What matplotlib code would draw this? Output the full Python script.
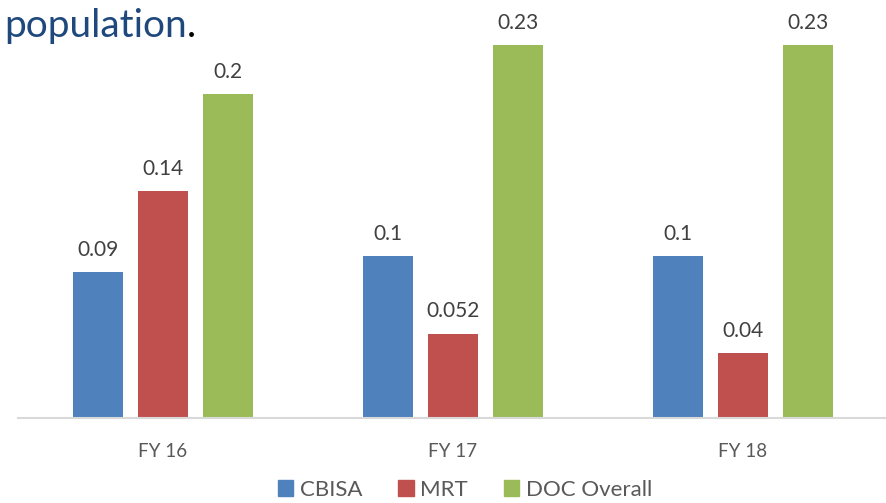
import numpy as np
import matplotlib
matplotlib.use("Agg")
import matplotlib.pyplot as plt
from matplotlib.patches import Patch

plt.rcParams['font.family'] = ['Lato', 'DejaVu Sans']

years = ["FY 16", "FY 17", "FY 18"]
series = ["CBISA", "MRT", "DOC Overall"]
cbisa = [0.09, 0.1, 0.1]
mrt = [0.14, 0.052, 0.04]
doc = [0.2, 0.23, 0.23]
labels = [["0.09", "0.1", "0.1"], ["0.14", "0.052", "0.04"], ["0.2", "0.23", "0.23"]]
colors = ["#4F81BD", "#C0504D", "#9BBB59"]

fig = plt.figure(figsize=(8.86, 5.03), dpi=100)
ax = fig.add_axes([18 / 886, 85 / 503, 868 / 886, 405 / 503])

x = np.arange(len(years))
w = 50 / 290
step = 65 / 290
for i, vals in enumerate([cbisa, mrt, doc]):
    pos = x + (i - 1) * step
    ax.bar(pos, vals, width=w, color=colors[i], zorder=2)
    for p, v, t in zip(pos, vals, labels[i]):
        ax.annotate(t, (p, v), xytext=(0, 9), textcoords="offset points",
                    ha="center", va="bottom", fontsize=15, color="#404040")

ax.set_xlim(-0.5, 2.5 - 2 / 290)
ax.set_ylim(0, 0.25)
ax.set_xticks(x)
ax.set_xticklabels(years, fontsize=13.5, color="#595959")
ax.tick_params(axis="x", length=0, pad=18)
ax.set_yticks([])
for s in ["top", "right", "left"]:
    ax.spines[s].set_visible(False)
ax.spines["bottom"].set_color("#D9D9D9")
ax.spines["bottom"].set_linewidth(1.5)

handles = [Patch(color=c) for c in colors]
fig.legend(handles, series, loc="center", bbox_to_anchor=(465 / 886, 1 - 490 / 503),
           ncol=3, frameon=False, fontsize=16, labelcolor="#595959",
           handlelength=0.7, handleheight=0.7, handletextpad=0.3, columnspacing=1.6)

t = fig.text(4 / 886, 1 - 37 / 503, "population", fontsize=28, color="#1F497D",
             ha="left", va="baseline")
plt.gcf().canvas.draw()
ax.annotate(".", xy=(1, 0), xycoords=t, ha="left", va="bottom",
            fontsize=28, color="black", annotation_clip=False)

fig.savefig("out.png", dpi=100)
